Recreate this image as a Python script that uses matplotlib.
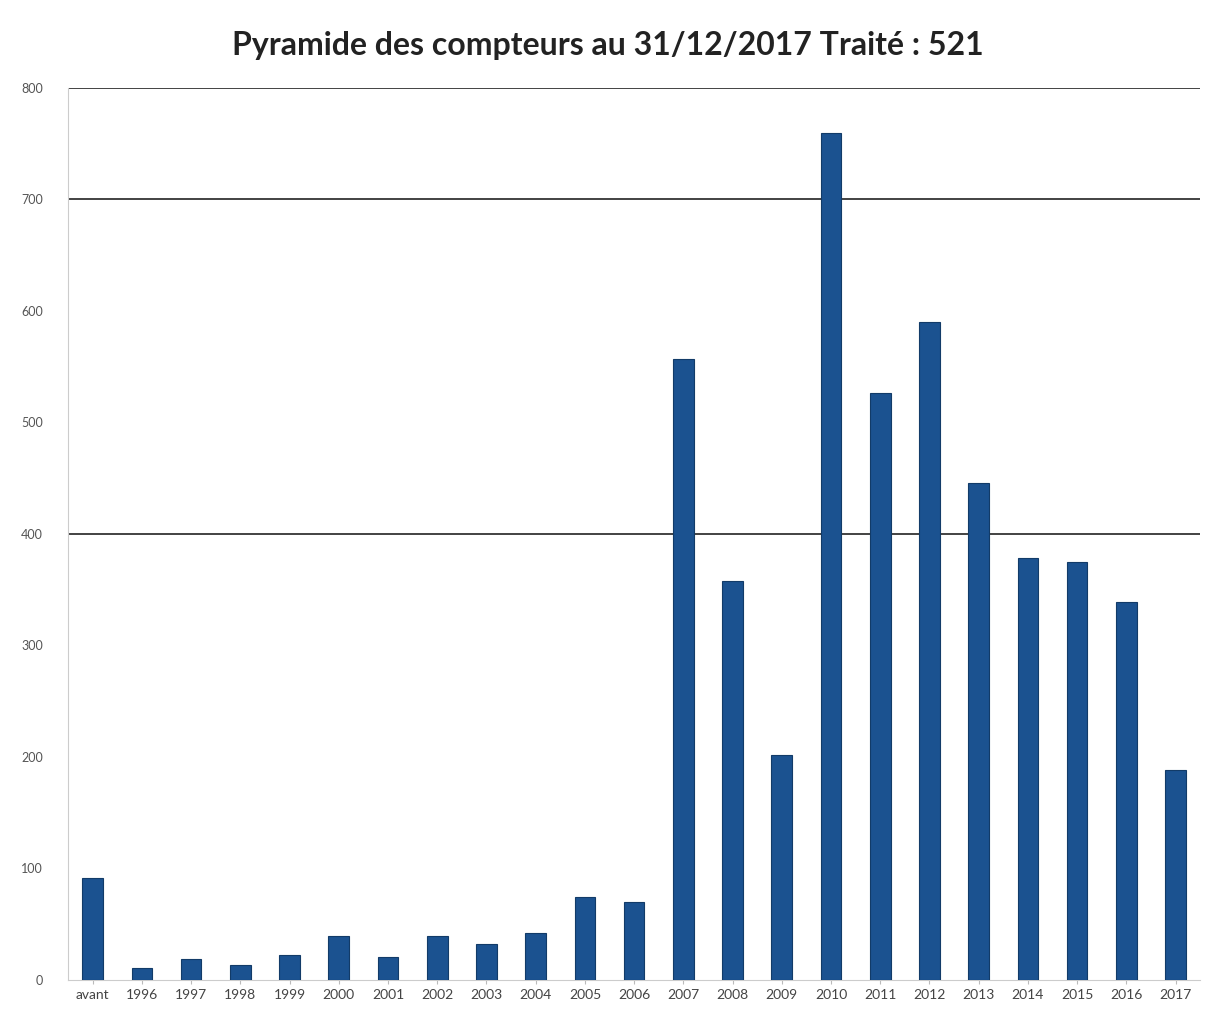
import matplotlib.pyplot as plt

categories = ["avant", "1996", "1997", "1998", "1999", "2000", "2001", "2002",
              "2003", "2004", "2005", "2006", "2007", "2008", "2009", "2010",
              "2011", "2012", "2013", "2014", "2015", "2016", "2017"]
counts = [91, 11, 19, 13, 22, 39, 21, 39, 32, 42, 74, 70, 557, 358, 202,
          760, 526, 590, 446, 378, 375, 339, 188]
y_ticks = [0, 100, 200, 300, 400, 500, 600, 700, 800]
grid_visible = [400, 700, 800]


def main() -> None:
    fig = plt.figure(figsize=(12.16, 10.31), dpi=100)
    ax = fig.add_axes([0.056, 0.0495, 0.931, 0.8652])

    x = range(len(categories))
    ax.bar(x, counts, width=0.42, color="#1b5290", edgecolor="#123b68",
           linewidth=0.8, zorder=3)

    for g in grid_visible:
        ax.axhline(g, color="#222222", linewidth=1.2, zorder=1)

    ax.set_xlim(-0.5, len(categories) - 0.5)
    ax.set_ylim(0, 800)
    ax.set_xticks(list(x))
    ax.set_xticklabels(categories, fontsize=10, color="#444444", family="Lato")
    ax.set_yticks(y_ticks)
    ax.set_yticklabels([str(v) for v in y_ticks], fontsize=9, color="#555555",
                       family="Lato")
    ax.tick_params(axis="both", length=3, color="#bbbbbb")
    ax.tick_params(axis="y", length=0, pad=18)

    for side in ["top", "right"]:
        ax.spines[side].set_visible(False)
    ax.spines["left"].set_color("#cccccc")
    ax.spines["bottom"].set_color("#cccccc")

    fig.suptitle("Pyramide des compteurs au 31/12/2017 Traité : 521",
                 y=0.97, fontsize=23, fontweight="bold", family="Lato",
                 color="#222222")

    fig.savefig("out.png", dpi=100)


if __name__ == "__main__":
    main()
